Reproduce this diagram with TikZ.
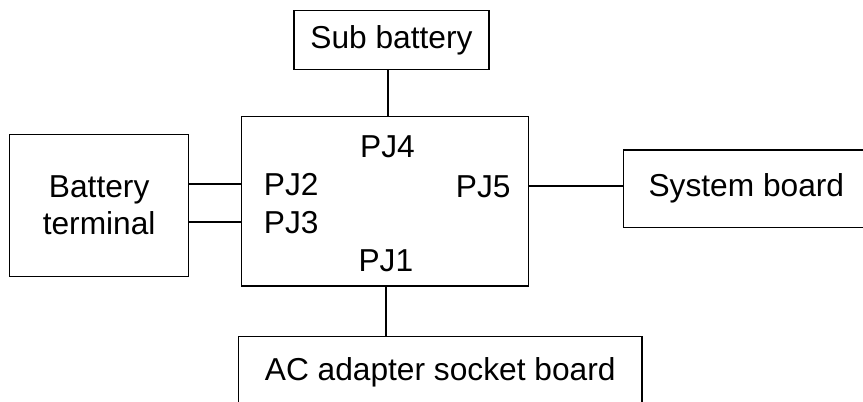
\documentclass[tikz,border=0pt]{standalone}
\usepackage{fontspec}
\setmainfont{Liberation Sans}
\usetikzlibrary{positioning}

\begin{document}
\begin{tikzpicture}[
    x=0.5pt, y=-0.5pt,
    box/.style={
        draw,
        line width=0.6pt,
        inner sep=0pt,
        align=center,
        font=\fontsize{15.85}{18.75}\selectfont
    },
    jack/.style={inner sep=0pt, anchor=base, font=\fontsize{15.85}{18.75}\selectfont},
    link/.style={line width=1pt}
]
\useasboundingbox (0,0) rectangle (863,402);

\node[box, minimum width=143.5pt, minimum height=84.75pt] (ctrl) at (385,201.25) {};
\node[box, minimum width=97.5pt, minimum height=29.65pt, above=22.75pt of ctrl, xshift=3.25pt] (sub) {Sub battery};
\node[box, minimum width=89.65pt, minimum height=70.85pt, left=25.75pt of ctrl, yshift=-2pt] (bat) {Battery\\terminal};
\node[box, minimum width=122.85pt, minimum height=38.65pt, right=46.9pt of ctrl, yshift=6.3pt] (sys) {System board};
\node[box, minimum width=201.85pt, minimum height=35.8pt, below=24.65pt of ctrl, xshift=27.6pt] (ac) {AC adapter socket board};

% connector labels inside the box
\node[jack] (pj4) at (387.5,157.7) {PJ4};
\node[jack] (pj2) at (291.2,195) {PJ2};
\node[jack] (pj3) at (291.2,233) {PJ3};
\node[jack] (pj5) at (483.3,197) {PJ5};
\node[jack] (pj1) at (385.9,271.7) {PJ1};

\draw[link] (pj4 |- sub.south) -- (pj4 |- ctrl.north);
\draw[link] (bat.east |- pj2) -- (ctrl.west |- pj2);
\draw[link] (bat.east |- pj3) -- (ctrl.west |- pj3);
\draw[link] (ctrl.east |- pj5) -- (sys.west |- pj5);
\draw[link] (pj1 |- ctrl.south) -- (pj1 |- ac.north);
\end{tikzpicture}
\end{document}
